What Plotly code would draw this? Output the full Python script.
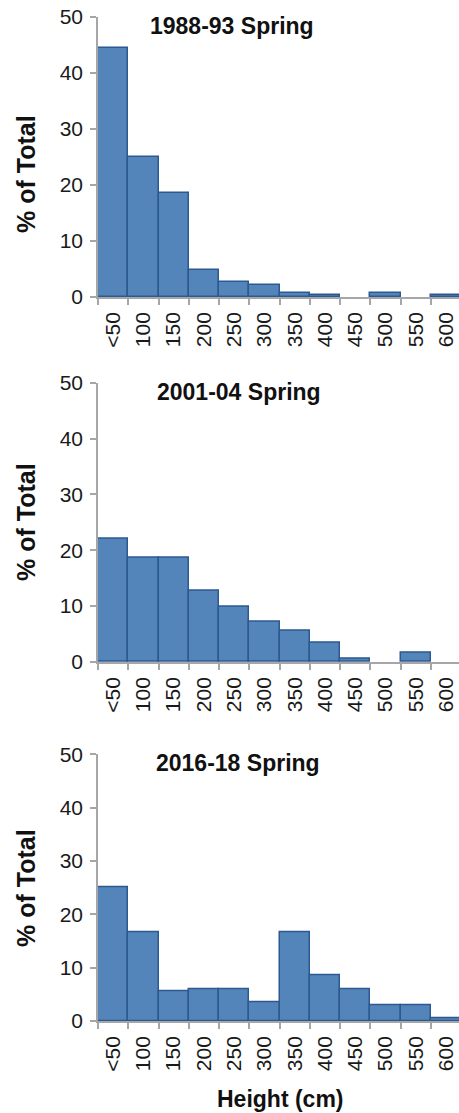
import plotly.graph_objects as go

# Height classes (cm) and share of plants in each class, three survey periods
height_classes = ["<50", "100", "150", "200", "250", "300", "350", "400", "450", "500", "550", "600"]
pct_1988_93 = [44.4, 25.0, 18.6, 4.8, 2.6, 2.2, 0.8, 0.4, 0.0, 0.8, 0.0, 0.4]
pct_2001_04 = [22.0, 18.6, 18.6, 12.7, 9.9, 7.2, 5.6, 3.4, 0.6, 0.0, 1.7, 0.0]
pct_2016_18 = [25.0, 16.6, 5.6, 6.0, 6.0, 3.5, 16.6, 8.6, 6.0, 2.9, 2.9, 0.5]
panel_titles = ["1988-93 Spring", "2001-04 Spring", "2016-18 Spring"]
y_ticks = [0, 10, 20, 30, 40, 50]

W, H = 459, 1113
FILL = "#5384BA"
EDGE = "#2C5A90"
AXIS = "#A6A6A6"
FONT = "Liberation Sans, Arial, sans-serif"

# pixel geometry of each panel: (y of value 50, y of value 0), measured from top
panels = [(17, 297), (382.7, 662), (754.3, 1021)]
x_left = 98
bin_px = 30.27
x_max = -0.5 + (W - x_left) / bin_px

def py(v):
    return (H - v) / H

series = [pct_1988_93, pct_2001_04, pct_2016_18]
fig = go.Figure()
for i, vals in enumerate(series):
    sfx = "" if i == 0 else str(i + 1)
    # empty classes get no outline so only the axis shows there
    edge_w = [0 if v == 0 else 1.5 for v in vals]
    fig.add_trace(go.Bar(
        x=height_classes, y=vals, width=1.0,
        marker=dict(color=FILL, line=dict(color=EDGE, width=edge_w)),
        xaxis="x" + sfx, yaxis="y" + sfx, showlegend=False,
    ))

layout = dict(
    width=W, height=H,
    margin=dict(l=0, r=0, t=0, b=0),
    paper_bgcolor="white", plot_bgcolor="white",
    bargap=0, template="none",
    font=dict(family=FONT, color="#1a1a1a"),
)
annotations = []
title_pos = [(231.7, 25.7), (239, 391.7), (237.5, 763.3)]
ytitle_y = [174, 522, 888]
for i, (top, bot) in enumerate(panels):
    sfx = "" if i == 0 else str(i + 1)
    layout["xaxis" + sfx] = dict(
        domain=[x_left / W, 1], anchor="y" + sfx,
        type="category", range=[-0.5, x_max],
        tickson="boundaries", ticks="outside", ticklen=6, tickwidth=1.5,
        tickcolor=AXIS, showline=True, linecolor=AXIS, linewidth=1.5,
        showgrid=False, zeroline=False, tickangle=-90,
        ticklabelstandoff=5,
        tickfont=dict(family=FONT, size=21, color="#1a1a1a"),
        automargin=False, fixedrange=True,
    )
    layout["yaxis" + sfx] = dict(
        domain=[py(bot), py(top)], anchor="x" + sfx,
        range=[0, 50], tickvals=y_ticks, ticks="outside", ticklen=6,
        tickwidth=1.5, tickcolor=AXIS, showline=True, linecolor=AXIS,
        linewidth=1.5, showgrid=False, zeroline=False,
        ticklabelstandoff=3,
        tickfont=dict(family=FONT, size=21, color="#1a1a1a"),
        automargin=False, fixedrange=True,
    )
    tx, ty = title_pos[i]
    annotations.append(dict(
        text="<b>" + panel_titles[i] + "</b>", x=tx / W, y=py(ty),
        xref="paper", yref="paper", xanchor="center", yanchor="middle",
        showarrow=False, font=dict(family=FONT, size=23, color="#111"),
    ))
    annotations.append(dict(
        text="<b>% of Total</b>", x=26 / W, y=py(ytitle_y[i]),
        xref="paper", yref="paper", xanchor="center", yanchor="middle",
        textangle=-90, showarrow=False,
        font=dict(family=FONT, size=25, color="#111"),
    ))

annotations.append(dict(
    text="<b>Height (cm)</b>", x=280.8 / W, y=py(1099),
    xref="paper", yref="paper", xanchor="center", yanchor="middle",
    showarrow=False, font=dict(family=FONT, size=23, color="#111"),
))
layout["annotations"] = annotations
fig.update_layout(**layout)

fig.write_html("out.html")
